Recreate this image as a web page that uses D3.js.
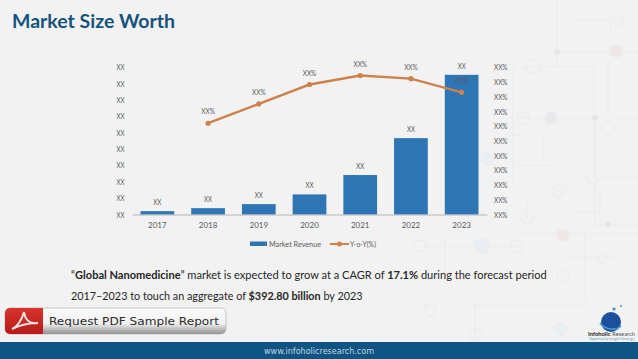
<!DOCTYPE html>
<html lang="en">
<head>
<meta charset="UTF-8">
<title>Market Size Worth</title>
<script src="https://cdn.jsdelivr.net/npm/d3@7"></script>
<style>
    html, body { margin: 0; padding: 0; background: #f2f2f2; overflow: hidden; }
    text { font-family: Lato, "Open Sans", sans-serif; }
</style>
</head>
<body>
<script>

    var years = ["2017", "2018", "2019", "2020", "2021", "2022", "2023"];
    var revenue = [9.4, 17.9, 29.2, 56.5, 111, 214.8, 392.8];
    var yoy = [null, 62, 75.1, 88.3, 94.4, 92.3, 83];
    var revenueTicks = [0, 46, 92, 138, 184, 230, 276, 322, 368, 414];
    var yoyTicks = [0, 10, 20, 30, 40, 50, 60, 70, 80, 90, 100];

    var width = 638, height = 359;

    var svg = d3.select("body").append("svg")
        .attr("width", width)
        .attr("height", height)
        .style("display", "block");

    // faint circuit pattern behind everything
    var decor = svg.append("g")
        .attr("fill", "none")
        .attr("stroke", "#ebebec")
        .attr("stroke-width", 1.1);
    var traces = [
        "M513,67H594V178H638", "M557,0V67", "M557,52H638", "M575,20H610V35", "M497,118H638",
        "M513,67V185", "M513,135H520", "M543,135V160", "M513,165H557", "M595,118V225H638",
        "M608,60V118", "M560,192H600V212H570", "M527,218V200", "M420,246H520", "M515,234H638",
        "M445,240V280", "M565,257H620", "M585,234V300", "M470,305H585", "M475,300V345", "M490,328H580"
    ];
    decor.selectAll("path").data(traces).join("path").attr("d", function (d) { return d; });
    var nodes = [
        [533, 66, 7, "none"], [557, 52, 3, "#e4e4e5"], [616, 51, 6, "#efe6e5"], [618, 21, 5, "none"],
        [523, 118, 6, "none"], [551, 118, 6, "#e9e8ee"], [595, 118, 3, "#e4e4e5"], [608, 128, 6, "none"],
        [593, 178, 6, "none"], [558, 191, 6, "none"], [527, 218, 6, "none"], [608, 224, 3, "#e4e4e5"],
        [563, 235, 6, "#f0e6e5"], [420, 246, 6, "none"], [482, 246, 7, "#e8eef3"], [517, 246, 6, "none"],
        [487, 159, 6, "#e9f0f4"], [563, 276, 6, "none"], [430, 310, 6, "none"], [561, 329, 6, "#e9f0f4"],
        [602, 258, 5, "none"], [475, 335, 6, "none"]
    ];
    decor.selectAll("circle").data(nodes).join("circle")
        .attr("cx", function (d) { return d[0]; })
        .attr("cy", function (d) { return d[1]; })
        .attr("r", function (d) { return d[2]; })
        .attr("fill", function (d) { return d[3]; });

    // title
    svg.append("text")
        .attr("x", 12).attr("y", 27.5)
        .attr("font-size", 19.5).attr("font-weight", 700)
        .attr("fill", "#15527c")
        .text("Market Size Worth");

    // chart
    var x = d3.scaleBand().domain(years).range([132, 487]).paddingInner(0.335).paddingOuter(0.1675);
    var y = d3.scaleLinear().domain([0, 414]).range([214.5, 67.3]);
    var y2 = d3.scaleLinear().domain([0, 100]).range([214.5, 67.3]);

    var barColor = "#2e75b6", lineColor = "#d0804a", labelColor = "#595959";

    // Lato's X is much wider than the original font's, so squeeze to the measured widths
    var xxWidth = 8, xxPctWidth = 13.5;

    function squeeze(sel, w) {
        sel.attr("textLength", w).attr("lengthAdjust", "spacingAndGlyphs");
    }

    // same idea for text with tspans: scale the whole line to the measured width
    function fitLine(sel, px, py, w) {
        var k = w / sel.node().getComputedTextLength();
        sel.attr("transform", "translate(" + px + "," + py + ") scale(" + k + ",1)");
    }

    function styleAxis(g, w) {
        g.select(".domain").remove();
        g.selectAll(".tick line").remove();
        g.selectAll("text").attr("font-size", 8).attr("fill", labelColor)
            .style("font-family", "Lato, sans-serif")
            .call(squeeze, w);
    }

    svg.append("g")
        .attr("transform", "translate(124.5,0)")
        .call(d3.axisLeft(y).tickValues(revenueTicks).tickSize(0).tickPadding(0).tickFormat(function () { return "XX"; }))
        .call(styleAxis, xxWidth);

    svg.append("g")
        .attr("transform", "translate(494,0)")
        .call(d3.axisRight(y2).tickValues(yoyTicks).tickSize(0).tickPadding(0).tickFormat(function () { return "XX%"; }))
        .call(styleAxis, xxPctWidth);

    svg.selectAll("rect.bar").data(revenue).join("rect")
        .attr("class", "bar")
        .attr("x", function (d, i) { return x(years[i]); })
        .attr("y", function (d) { return y(d); })
        .attr("width", x.bandwidth())
        .attr("height", function (d) { return y(0) - y(d); })
        .attr("fill", barColor);

    var xAxis = svg.append("g")
        .attr("transform", "translate(0," + y(0) + ")")
        .call(d3.axisBottom(x).tickSize(0).tickPadding(8));
    xAxis.select(".domain").attr("stroke", "#a6a6a6").attr("stroke-width", 0.8);
    xAxis.selectAll("text").attr("font-size", 8).attr("fill", labelColor)
        .style("font-family", "Lato, sans-serif");

    var line = d3.line()
        .defined(function (d) { return d !== null; })
        .x(function (d, i) { return x(years[i]) + x.bandwidth() / 2; })
        .y(function (d) { return y2(d); });

    svg.append("path")
        .datum(yoy)
        .attr("fill", "none")
        .attr("stroke", lineColor)
        .attr("stroke-width", 2.4)
        .attr("d", line);

    svg.selectAll("circle.pt").data(yoy.filter(function (d) { return d !== null; })).join("circle")
        .attr("class", "pt")
        .attr("cx", function (d) { return x(years[yoy.indexOf(d)]) + x.bandwidth() / 2; })
        .attr("cy", function (d) { return y2(d); })
        .attr("r", 2.6)
        .attr("fill", lineColor);

    // data labels
    svg.selectAll("text.barlab").data(revenue).join("text")
        .attr("class", "barlab")
        .attr("x", function (d, i) { return x(years[i]) + x.bandwidth() / 2; })
        .attr("y", function (d) { return y(d) - 6; })
        .attr("text-anchor", "middle")
        .attr("font-size", 8).attr("fill", labelColor)
        .call(squeeze, xxWidth)
        .text("XX");

    svg.selectAll("text.linelab").data(yoy.filter(function (d) { return d !== null; })).join("text")
        .attr("class", "linelab")
        .attr("x", function (d) { return x(years[yoy.indexOf(d)]) + x.bandwidth() / 2; })
        .attr("y", function (d) { return y2(d) - 9; })
        .attr("text-anchor", "middle")
        .attr("font-size", 8).attr("fill", labelColor)
        .call(squeeze, xxPctWidth)
        .text("XX%");

    // legend
    var legend = svg.append("g");
    legend.append("rect").attr("x", 250).attr("y", 241.5).attr("width", 17).attr("height", 4.5).attr("fill", barColor);
    legend.append("text").attr("x", 269).attr("y", 247).attr("font-size", 8).attr("fill", labelColor)
        .call(squeeze, 52).text("Market Revenue");
    legend.append("line").attr("x1", 330).attr("x2", 349).attr("y1", 244).attr("y2", 244)
        .attr("stroke", lineColor).attr("stroke-width", 2);
    legend.append("circle").attr("cx", 339.5).attr("cy", 244).attr("r", 2.5).attr("fill", lineColor);
    legend.append("text").attr("x", 350).attr("y", 247).attr("font-size", 8).attr("fill", labelColor)
        .call(squeeze, 26).text("Y-o-Y(%)");

    // paragraph
    var p1 = svg.append("text").attr("font-size", 12).attr("fill", "#262626");
    p1.append("tspan").text("\u201c");
    p1.append("tspan").attr("font-weight", 700).text("Global Nanomedicine");
    p1.append("tspan").text("\u201d market is expected to grow at a CAGR of ");
    p1.append("tspan").attr("font-weight", 700).text("17.1%");
    p1.append("tspan").text(" during the forecast period");
    fitLine(p1, 71, 279, 476);

    var p2 = svg.append("text").attr("font-size", 12).attr("fill", "#262626");
    p2.append("tspan").text("2017\u20132023 to touch an aggregate of ");
    p2.append("tspan").attr("font-weight", 700).text("$392.80 billion");
    p2.append("tspan").text(" by 2023");
    fitLine(p2, 71, 300, 292);

    // pdf button
    var defs = svg.append("defs");
    var grey = defs.append("linearGradient").attr("id", "btn").attr("x1", 0).attr("x2", 0).attr("y1", 0).attr("y2", 1);
    grey.append("stop").attr("offset", "0").attr("stop-color", "#fbfbfb");
    grey.append("stop").attr("offset", "0.6").attr("stop-color", "#f1f1f1");
    grey.append("stop").attr("offset", "1").attr("stop-color", "#8f8f8f");
    var red = defs.append("linearGradient").attr("id", "btnred").attr("x1", 0).attr("x2", 0).attr("y1", 0).attr("y2", 1);
    red.append("stop").attr("offset", "0").attr("stop-color", "#d8342c");
    red.append("stop").attr("offset", "1").attr("stop-color", "#b51c1c");

    svg.append("rect").attr("x", 5).attr("y", 308).attr("width", 221).attr("height", 26).attr("rx", 5)
        .attr("fill", "url(#btn)").attr("stroke", "#a5a5a5").attr("stroke-width", 0.6);
    svg.append("path").attr("d", "M43,308H10a5,5 0 0 0 -5,5V329a5,5 0 0 0 5,5H43Z").attr("fill", "url(#btnred)");
    svg.append("path")
        .attr("d", "M12,329C17,327 22,320 24,312C25,320 30,324 38,323C31,323 20,325 12,329Z")
        .attr("fill", "none").attr("stroke", "#f8e4e0").attr("stroke-width", 2);
    svg.append("text").attr("x", 49).attr("y", 324.5)
        .attr("font-size", 11.2)
        .style("font-family", "'DejaVu Sans', sans-serif")
        .attr("fill", "#2b2b2b")
        .call(squeeze, 170)
        .text("Request PDF Sample Report");

    // logo
    svg.append("path").attr("d", "M601,322a10,10 0 1 1 20,0a10,10 0 0 1 -20,0Z").attr("fill", "#1d4f9c");
    svg.append("path").attr("d", "M600,323C605,330 616,331 621,326").attr("fill", "none")
        .attr("stroke", "#4a9ad6").attr("stroke-width", 1.6);
    svg.append("circle").attr("cx", 614).attr("cy", 309).attr("r", 1.6).attr("fill", "#3c8fd0");
    svg.append("circle").attr("cx", 621).attr("cy", 306).attr("r", 1).attr("fill", "#3c8fd0");
    var logo = svg.append("text").attr("font-size", 6.2).attr("fill", "#555");
    logo.append("tspan").attr("font-weight", 700).attr("fill", "#222").text("Infoholic");
    logo.append("tspan").text(" Research");
    fitLine(logo, 588, 335.5, 47);
    svg.append("text").attr("x", 589).attr("y", 340).attr("font-size", 3.8).attr("fill", "#6f9ac4")
        .call(squeeze, 45)
        .text("Opportunity Insight Strategy");

    // footer
    svg.append("rect").attr("x", 0).attr("y", 342).attr("width", width).attr("height", 17).attr("fill", "#0f5584");
    svg.append("text").attr("x", 264).attr("y", 353.5)
        .attr("font-size", 8.4)
        .style("font-family", "'DejaVu Sans', sans-serif")
        .attr("fill", "#c3d3df")
        .call(squeeze, 110)
        .text("www.infoholicresearch.com");

</script>
</body>
</html>
